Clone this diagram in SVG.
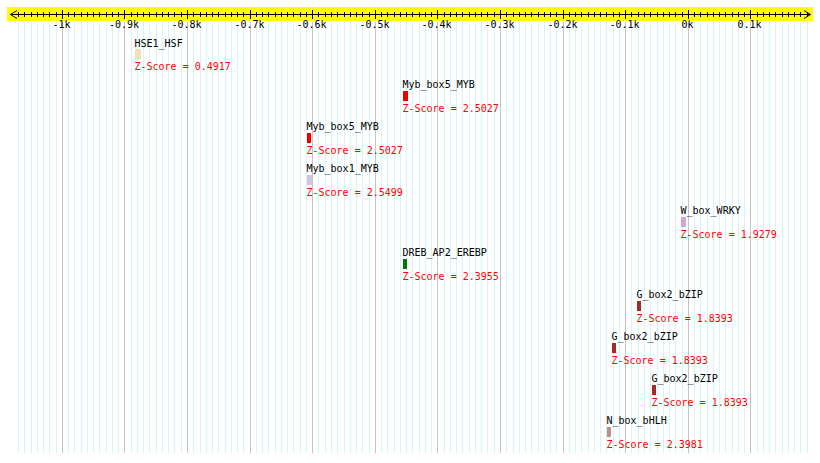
<svg xmlns="http://www.w3.org/2000/svg" width="820" height="463" viewBox="0 0 820 463">
<style>
text{font-family:"DejaVu Sans Mono","Liberation Mono",monospace;font-size:10px}
.tl{text-anchor:middle;fill:#000}
.nm{fill:#000}
.zs{fill:#ff0000}
.ln{fill:none;stroke-width:1}
</style>
<defs>
<path id="minor" d="M18.5 0V1M24.5 0V1M31.5 0V1M37.5 0V1M43.5 0V1M49.5 0V1M56.5 0V1M62.5 0V1M68.5 0V1M74.5 0V1M81.5 0V1M87.5 0V1M93.5 0V1M99.5 0V1M106.5 0V1M112.5 0V1M118.5 0V1M124.5 0V1M131.5 0V1M137.5 0V1M143.5 0V1M149.5 0V1M156.5 0V1M162.5 0V1M168.5 0V1M174.5 0V1M181.5 0V1M187.5 0V1M193.5 0V1M200.5 0V1M206.5 0V1M212.5 0V1M218.5 0V1M225.5 0V1M231.5 0V1M237.5 0V1M243.5 0V1M250.5 0V1M256.5 0V1M262.5 0V1M268.5 0V1M275.5 0V1M281.5 0V1M287.5 0V1M293.5 0V1M300.5 0V1M306.5 0V1M312.5 0V1M318.5 0V1M325.5 0V1M331.5 0V1M337.5 0V1M344.5 0V1M350.5 0V1M356.5 0V1M362.5 0V1M369.5 0V1M375.5 0V1M381.5 0V1M387.5 0V1M394.5 0V1M400.5 0V1M406.5 0V1M412.5 0V1M419.5 0V1M425.5 0V1M431.5 0V1M437.5 0V1M444.5 0V1M450.5 0V1M456.5 0V1M462.5 0V1M469.5 0V1M475.5 0V1M481.5 0V1M487.5 0V1M494.5 0V1M500.5 0V1M506.5 0V1M513.5 0V1M519.5 0V1M525.5 0V1M531.5 0V1M538.5 0V1M544.5 0V1M550.5 0V1M556.5 0V1M563.5 0V1M569.5 0V1M575.5 0V1M581.5 0V1M588.5 0V1M594.5 0V1M600.5 0V1M606.5 0V1M613.5 0V1M619.5 0V1M625.5 0V1M631.5 0V1M638.5 0V1M644.5 0V1M650.5 0V1M657.5 0V1M663.5 0V1M669.5 0V1M675.5 0V1M682.5 0V1M688.5 0V1M694.5 0V1M700.5 0V1M707.5 0V1M713.5 0V1M719.5 0V1M725.5 0V1M732.5 0V1M738.5 0V1M744.5 0V1M750.5 0V1M757.5 0V1M763.5 0V1M769.5 0V1M775.5 0V1M782.5 0V1M788.5 0V1M794.5 0V1M800.5 0V1M807.5 0V1"/>
<path id="major" d="M62.5 0V1M124.5 0V1M187.5 0V1M250.5 0V1M312.5 0V1M375.5 0V1M437.5 0V1M500.5 0V1M563.5 0V1M625.5 0V1M688.5 0V1M750.5 0V1"/>
</defs>
<rect width="820" height="463" fill="#ffffff"/>
<g id="grid">
<use href="#minor" class="ln" stroke="#d2f6f6" transform="translate(0 22) scale(1 431)"/>
<use href="#major" class="ln" stroke="#c4c4c4" transform="translate(0 22) scale(1 431)"/>
</g>
<g id="axis">
<rect x="7" y="7" width="806" height="14" fill="#ffff00"/>
<path class="ln" stroke="#000" d="M10.5 14.5H810.5M17 10.5L10.5 14.5L17 18.5M804 10.5L810.5 14.5L804 18.5"/>
<use href="#minor" class="ln" stroke="#000" transform="translate(0 12) scale(1 5)"/>
<use href="#major" class="ln" stroke="#000" transform="translate(0 10) scale(1 9)"/>
<text class="tl" x="61.5" y="28">-1k</text>
<text class="tl" x="124" y="28">-0.9k</text>
<text class="tl" x="186.5" y="28">-0.8k</text>
<text class="tl" x="249.5" y="28">-0.7k</text>
<text class="tl" x="311.5" y="28">-0.6k</text>
<text class="tl" x="374.5" y="28">-0.5k</text>
<text class="tl" x="436.5" y="28">-0.4k</text>
<text class="tl" x="499.5" y="28">-0.3k</text>
<text class="tl" x="562.5" y="28">-0.2k</text>
<text class="tl" x="624.5" y="28">-0.1k</text>
<text class="tl" x="687.5" y="28">0k</text>
<text class="tl" x="749.5" y="28">0.1k</text>
</g>
<g id="f1">
<text class="nm" x="134.5" y="46.5">HSE1_HSF</text>
<rect x="135" y="49" width="6" height="10" fill="#f5deb3"/>
<text class="zs" x="134.5" y="69.5">Z-Score = 0.4917</text>
</g>
<g id="f2">
<text class="nm" x="402.5" y="88">Myb_box5_MYB</text>
<rect x="403" y="91" width="5" height="10" fill="#ee0000"/>
<text class="zs" x="402.5" y="111.5">Z-Score = 2.5027</text>
</g>
<g id="f3">
<text class="nm" x="306.5" y="130">Myb_box5_MYB</text>
<rect x="307" y="133" width="4" height="10" fill="#ee0000"/>
<text class="zs" x="306.5" y="153.5">Z-Score = 2.5027</text>
</g>
<g id="f4">
<text class="nm" x="306.5" y="172">Myb_box1_MYB</text>
<rect x="307" y="175" width="5" height="10" fill="#d8c4d8"/>
<text class="zs" x="306.5" y="195.5">Z-Score = 2.5499</text>
</g>
<g id="f5">
<text class="nm" x="680.5" y="214">W_box_WRKY</text>
<rect x="681" y="217" width="5" height="10" fill="#d8a4d8"/>
<text class="zs" x="680.5" y="237.5">Z-Score = 1.9279</text>
</g>
<g id="f6">
<text class="nm" x="402.5" y="256">DREB_AP2_EREBP</text>
<rect x="403" y="259" width="4" height="10" fill="#007a00"/>
<text class="zs" x="402.5" y="279.5">Z-Score = 2.3955</text>
</g>
<g id="f7">
<text class="nm" x="636.5" y="298">G_box2_bZIP</text>
<rect x="637" y="301" width="4" height="10" fill="#a52a2a"/>
<text class="zs" x="636.5" y="321.5">Z-Score = 1.8393</text>
</g>
<g id="f8">
<text class="nm" x="611.5" y="340">G_box2_bZIP</text>
<rect x="612" y="343" width="4" height="10" fill="#a52a2a"/>
<text class="zs" x="611.5" y="363.5">Z-Score = 1.8393</text>
</g>
<g id="f9">
<text class="nm" x="651.5" y="382">G_box2_bZIP</text>
<rect x="652" y="385" width="4" height="10" fill="#a52a2a"/>
<text class="zs" x="651.5" y="405.5">Z-Score = 1.8393</text>
</g>
<g id="f10">
<text class="nm" x="606.5" y="424">N_box_bHLH</text>
<rect x="607" y="427" width="4" height="10" fill="#bc8f8f"/>
<text class="zs" x="606.5" y="447.5">Z-Score = 2.3981</text>
</g>
</svg>
